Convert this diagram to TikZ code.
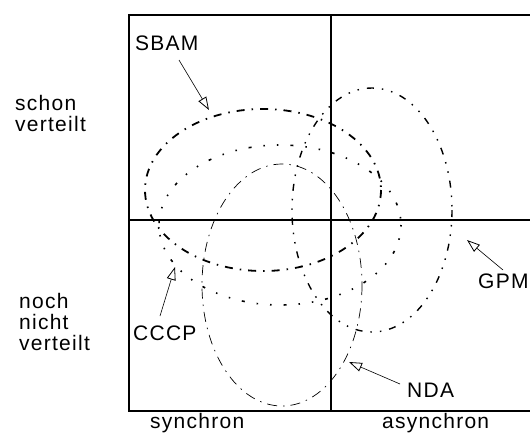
\documentclass[tikz,border=0pt]{standalone}
\usepackage{fontspec}
\setmainfont{Liberation Sans}[LetterSpace=6]
\usetikzlibrary{arrows.meta}
\begin{document}
\begin{tikzpicture}[x=1pt,y=-1pt,
  lbl/.style={inner sep=0pt, font=\fontsize{21}{21}\selectfont},
  frameline/.style={line width=1.3pt},
  ptr/.style={line width=0.6pt, -{Triangle[open,length=13pt,width=9pt,line width=0.8pt]}},
  sbamline/.style={line width=1.8pt, dash pattern=on 8pt off 7pt on 1.5pt off 7pt},
  cccpline/.style={line width=1.6pt, dash pattern=on 1.5pt off 12pt on 1.5pt off 12pt on 3pt off 12pt},
  gpmline/.style={line width=1.4pt, dash pattern=on 7pt off 8pt on 1.5pt off 8pt on 1.5pt off 8pt},
  ndaline/.style={line width=0.7pt, dash pattern=on 10pt off 6pt on 1.5pt off 6pt}]
\useasboundingbox (0,0) rectangle (530,432);
\fill[white] (0,0) rectangle (530,432);

% quadrant frame (open to the right)
\draw[frameline] (530,15) -- (129,15) -- (129,411) -- (530,411);
\draw[frameline] (331,15) -- (331,411);
\draw[frameline] (129,220) -- (530,220);

% axis labels
\node[lbl, anchor=north west, align=left] (distyes) at (15,95) {schon\\verteilt};
\node[lbl, anchor=north west, align=left] (distno) at (19,293) {noch\\nicht\\verteilt};
\node[lbl, anchor=base west] (sync) at (150,428) {synchron};
\node[lbl, anchor=base west] (async) at (382,428) {asynchron};

% protocol regions
\draw[sbamline] (263,190) ellipse [x radius=118, y radius=81];
\draw[cccpline] (280,225) ellipse [x radius=121, y radius=80];
\draw[gpmline] (372,210) ellipse [x radius=80, y radius=122];
\draw[ndaline] (282,285) ellipse [x radius=80, y radius=121];

% region labels
\node[lbl, anchor=base west] (sbam) at (135,50) {SBAM};
\node[lbl, anchor=base west] (cccp) at (133,340) {CCCP};
\node[lbl, anchor=base west] (gpm) at (478,288) {GPM};
\node[lbl, anchor=base west] (nda) at (407,397) {NDA};

% pointers from labels to regions
\coordinate (sbamtail) at (179,60);
\coordinate (sbamtip) at (209,110);
\coordinate (cccptail) at (160,316);
\coordinate (cccptip) at (175,267);
\coordinate (gpmtail) at (503,270);
\coordinate (gpmtip) at (467,240);
\coordinate (ndatail) at (400,384);
\coordinate (ndatip) at (349,362);
\draw[ptr] (sbamtail) -- (sbamtip);
\draw[ptr] (cccptail) -- (cccptip);
\draw[ptr] (gpmtail) -- (gpmtip);
\draw[ptr] (ndatail) -- (ndatip);
\end{tikzpicture}
\end{document}
